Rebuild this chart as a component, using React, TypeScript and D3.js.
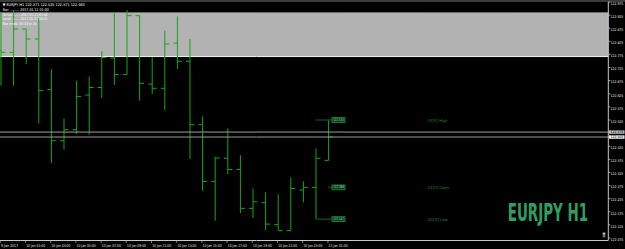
import React from 'react';
import * as d3 from 'd3';

// ---- data (EURJPY H1, bars from 9 Jan 23:00 to 11 Jan 01:00) ----
const barTimes = ['9 Jan 23:00', '10 Jan 00:00', '10 Jan 01:00', '10 Jan 02:00', '10 Jan 03:00', '10 Jan 04:00', '10 Jan 05:00', '10 Jan 06:00', '10 Jan 07:00', '10 Jan 08:00', '10 Jan 09:00', '10 Jan 10:00', '10 Jan 11:00', '10 Jan 12:00', '10 Jan 13:00', '10 Jan 14:00', '10 Jan 15:00', '10 Jan 16:00', '10 Jan 17:00', '10 Jan 18:00', '10 Jan 19:00', '10 Jan 20:00', '10 Jan 21:00', '10 Jan 22:00', '10 Jan 23:00', '11 Jan 00:00', '11 Jan 01:00'];
const opens = [122.790, 122.783, 122.872, 122.834, 122.641, 122.446, 122.488, 122.620, 122.649, 122.761, 122.698, 122.923, 122.662, 122.646, 122.818, 122.749, 122.507, 122.291, 122.379, 122.336, 122.188, 122.210, 122.126, 122.103, 122.258, 122.268, 122.371];
const highs = [122.935, 122.942, 122.872, 122.914, 122.719, 122.531, 122.675, 122.690, 122.787, 122.932, 122.944, 122.923, 122.764, 122.866, 122.920, 122.834, 122.539, 122.385, 122.493, 122.391, 122.264, 122.249, 122.242, 122.306, 122.291, 122.417, 122.525];
const lows = [122.656, 122.656, 122.738, 122.512, 122.360, 122.412, 122.471, 122.469, 122.609, 122.658, 122.698, 122.599, 122.624, 122.563, 122.719, 122.376, 122.255, 122.141, 122.319, 122.170, 122.151, 122.105, 122.103, 122.103, 122.211, 122.147, 122.371];
const closes = [122.783, 122.872, 122.834, 122.637, 122.446, 122.488, 122.615, 122.649, 122.763, 122.698, 122.923, 122.665, 122.646, 122.815, 122.749, 122.507, 122.291, 122.380, 122.336, 122.188, 122.213, 122.128, 122.103, 122.264, 122.268, 122.379, 122.460];

const timeLabelIdx = [0, 2, 4, 6, 8, 10, 12, 14, 16, 18, 20, 22, 24, 26];
const timeLabels = ['9 Jan 2017', '10 Jan 01:00', '10 Jan 03:00', '10 Jan 05:00', '10 Jan 07:00', '10 Jan 09:00', '10 Jan 11:00', '10 Jan 13:00', '10 Jan 15:00', '10 Jan 17:00', '10 Jan 19:00', '10 Jan 21:00', '10 Jan 23:00', '11 Jan 01:00'];

// 122.475 is covered by the bid/ask price boxes in the reference
const priceTicks = [122.975, 122.925, 122.875, 122.825, 122.775, 122.725, 122.675, 122.625, 122.575, 122.525, 122.425, 122.375, 122.325, 122.275, 122.225, 122.175, 122.125, 122.075];

const d1Names = ['D1[0] High', 'D1[0] Open', 'D1[0] Low'];
const d1Values = [122.525, 122.268, 122.147];
const bid = 122.460;
const ask = 122.479;
const panelTop = 122.935;
const panelBottom = 122.767;

const infoLines = [
  '\u25BC EURJPY,H1  122.371 122.525 122.371 122.460',
  'Bar: ......... 2017.01.11 01:00',
  'Server: ...... 2017.01.11 01:02',
  'Local: ....... 2017.01.11 03:21',
  'Bar ends: 0h 57m 2s',
];
const infoWidths = [82, 46, 45, 45, 34];

const W = 625;
const H = 249;
const plotRight = 608.3;
const axisY = 240.5;

export default function App() {
  const x = d3.scaleLinear().domain([0, 26]).range([1, 328.6]);
  const y = d3.scaleLinear().domain([122.075, 122.975]).range([238.0, 2.0]);
  const barColor = '#16a516';
  const small = 'DejaVu Sans, sans-serif';
  const bars = barTimes.map((t, i) => ({ t, i, o: opens[i], h: highs[i], l: lows[i], c: closes[i] }));

  return (
    <svg width={W} height={H} style={{ position: 'fixed', left: 0, top: 0, display: 'block' }}>
      <rect x={0} y={0} width={W} height={H} fill="#000" />
      <rect x={0} y={0} width={W} height={2} fill="#3c3c3c" />
      {/* grey rectangle object */}
      <rect x={0} y={y(panelTop)} width={plotRight} height={y(panelBottom) - y(panelTop)} fill="#b2b2b2" />
      <line x1={0} x2={plotRight} y1={y(panelTop)} y2={y(panelTop)} stroke="#6e6e6e" strokeWidth={1} />
      <line x1={0} x2={plotRight} y1={y(panelBottom)} y2={y(panelBottom)} stroke="#f2f2f2" strokeWidth={1} />

      {/* OHLC bars */}
      <g stroke={barColor} strokeWidth={1}>
        {bars.map((b) => (
          <g key={b.t}>
            <line x1={x(b.i)} x2={x(b.i)} y1={y(b.h)} y2={y(b.l)} />
            <line x1={x(b.i) - 4} x2={x(b.i)} y1={y(b.o)} y2={y(b.o)} />
            <line x1={x(b.i)} x2={x(b.i) + 4.5} y1={y(b.c)} y2={y(b.c)} />
          </g>
        ))}
      </g>

      {/* bid / ask lines */}
      <line x1={0} x2={plotRight} y1={y(ask)} y2={y(ask)} stroke="#9c9c9c" strokeWidth={1} />
      <line x1={0} x2={plotRight} y1={y(bid)} y2={y(bid)} stroke="#9c9c9c" strokeWidth={1} />

      {/* D1 levels */}
      {d1Values.map((v, i) => {
        const x1 = i === 1 ? x(26) - 0.5 : x(25) - 0.5;
        return (
          <g key={d1Names[i]}>
            <line x1={x1} x2={332} y1={y(v)} y2={y(v)} stroke="#0c4a1c" strokeWidth={1.4} />
            <rect x={332} y={y(v) - 2.4} width={13} height={4.8} fill="#0b3a18" stroke="#2a8a48" strokeWidth={0.8} />
            <text x={338.5} y={y(v)} fontFamily={small} fontSize={3.6} fill="#a8e4b8" textAnchor="middle" dominantBaseline="central" textLength={10.5} lengthAdjust="spacingAndGlyphs">{v.toFixed(3)}</text>
            <text x={427.7} y={y(v)} fontFamily={small} fontSize={3.8} fill="#23843f" dominantBaseline="central" textLength={i === 1 ? 22 : 20} lengthAdjust="spacingAndGlyphs">{d1Names[i]}</text>
          </g>
        );
      })}

      {/* price axis */}
      <line x1={plotRight} x2={plotRight} y1={2} y2={axisY} stroke="#c8c8c8" strokeWidth={1} />
      {priceTicks.map((p) => (
        <g key={p}>
          <line x1={plotRight} x2={plotRight + 2} y1={y(p)} y2={y(p)} stroke="#c8c8c8" strokeWidth={0.8} />
          <text x={610.5} y={y(p) + 1.3} fontFamily={small} fontSize={3.8} fill="#e6e6e6" dominantBaseline="central" textLength={12.8} lengthAdjust="spacingAndGlyphs">{p.toFixed(3)}</text>
        </g>
      ))}
      <rect x={609} y={y(ask) - 1.7} width={15.5} height={3.4} fill="#bdbdbd" />
      <text x={610.5} y={y(ask)} fontFamily={small} fontSize={3.2} fill="#000" dominantBaseline="central" textLength={12.8} lengthAdjust="spacingAndGlyphs">{ask.toFixed(3)}</text>
      <rect x={609} y={y(bid) - 1.7} width={15.5} height={3.4} fill="#f4f4f4" />
      <text x={610.5} y={y(bid)} fontFamily={small} fontSize={3.2} fill="#000" dominantBaseline="central" textLength={12.8} lengthAdjust="spacingAndGlyphs">{bid.toFixed(3)}</text>

      {/* time axis */}
      <line x1={0} x2={plotRight} y1={axisY} y2={axisY} stroke="#c8c8c8" strokeWidth={1} />
      {timeLabelIdx.map((k, j) => (
        <g key={timeLabels[j]}>
          <line x1={x(k) - 0.7} x2={x(k) - 0.7} y1={axisY} y2={axisY + 2.5} stroke="#c8c8c8" strokeWidth={0.6} />
          <text x={x(k)} y={245.3} fontFamily={small} fontSize={3.8} fill="#e6e6e6" dominantBaseline="central" textLength={j === 0 ? 17 : 19} lengthAdjust="spacingAndGlyphs">{timeLabels[j]}</text>
        </g>
      ))}

      {/* info text */}
      {infoLines.map((s, i) => (
        <text key={i} x={2.7} y={[4.3, 9.3, 14, 18.7, 23.7][i]} fontFamily={small} fontSize={3.8} fill="#ffffff" dominantBaseline="central" textLength={infoWidths[i]} lengthAdjust="spacingAndGlyphs">{s}</text>
      ))}

      {/* big symbol label (horizontally condensed via transform) */}
      <g transform="translate(507.7,221) scale(0.625,1)">
        <text x={0} y={0} fontFamily="'DejaVu Sans Condensed', 'Liberation Sans Narrow', sans-serif" fontWeight="bold" fontSize={24} fill="#2f9e63" textLength={128.8} lengthAdjust="spacingAndGlyphs">EURJPY H1</text>
      </g>

      {/* tiny icon */}
      <rect x={602.7} y={232.7} width={2.6} height={4.6} fill="#7a7a7a" />
      <rect x={602.7} y={232.7} width={2.6} height={1.4} fill="#bdbdbd" />
    </svg>
  );
}
